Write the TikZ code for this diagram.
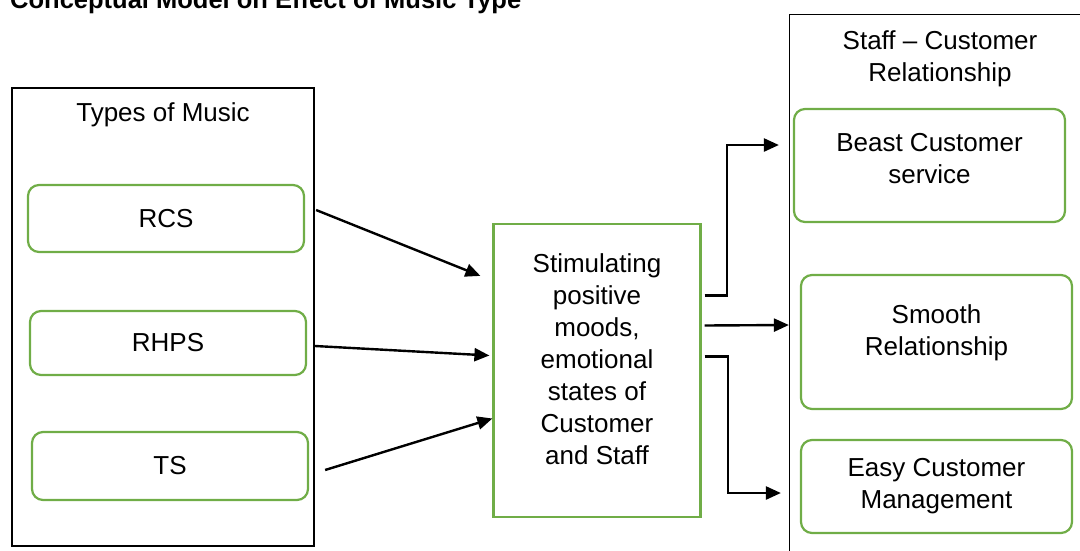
\documentclass[tikz,border=0pt]{standalone}
\usepackage{fontspec}
\setmainfont{Liberation Sans}
\usetikzlibrary{calc,arrows.meta}
\definecolor{boxgreen}{HTML}{70AD47}
\tikzset{
  outerbox/.style={draw=black, line width=1.3pt, minimum width=#1, inner sep=0pt},
  greenbox/.style={draw=boxgreen, line width=2.2pt, rounded corners=11pt, inner sep=0pt},
  plainbox/.style={draw=boxgreen, line width=2.2pt, inner sep=0pt},
  lbl/.style={font=\fontsize{26}{32}\selectfont, align=center, inner sep=0pt},
  conn/.style={line width=2.4pt, -{Triangle[length=15pt,width=13pt]}},
}
\begin{document}
\begin{tikzpicture}[x=1pt,y=-1pt]
\clip (0,0) rectangle (1080,550);
\useasboundingbox (0,0) rectangle (1080,550);
% title (clipped at top as in reference)
\node[anchor=base west, inner sep=0pt, font=\fontsize{25.5}{30}\selectfont\bfseries] (title) at (10,8.5) {Conceptual Model on Effect of Music Type};
% left group
\node[outerbox=302pt, minimum height=458pt] (left) at (163,317) {};
\node[lbl] (leftT) at (163,115) {Types of Music};
\node[greenbox, minimum width=276pt, minimum height=67pt] (rcs) at (166,218.5) {};
\node[lbl] (rcsT) at (166,218.5) {RCS};
\node[greenbox, minimum width=276pt, minimum height=64pt] (rhps) at (168,343) {};
\node[lbl] (rhpsT) at (168,343) {RHPS};
\node[greenbox, minimum width=276pt, minimum height=68pt] (ts) at (170,466) {};
\node[lbl] (tsT) at (170,466) {TS};
% center
\node[plainbox, minimum width=207pt, minimum height=293pt] (center) at (597,370.5) {};
\node[lbl] (centerT) at (597,359) {Stimulating\\positive\\moods,\\emotional\\states of\\Customer\\and Staff};
% right group
\node[outerbox=300pt, minimum height=560pt, anchor=north west] (right) at (789,14) {};
\node[lbl] (rightT) at (940,59) {Staff -- Customer\\Relationship};
\node[greenbox, minimum width=271pt, minimum height=113pt] (beast) at (929.5,165.5) {};
\node[lbl] (beastT) at (929.5,158.5) {Beast Customer\\service};
\node[greenbox, minimum width=271pt, minimum height=134pt] (smooth) at (936.5,342) {};
\node[lbl] (smoothT) at (936.5,332.5) {Smooth\\Relationship};
\node[greenbox, minimum width=271pt, minimum height=93pt] (easy) at (936.5,486.5) {};
\node[lbl] (easyT) at (936.5,486.5) {Easy Customer\\Management};
% connectors
\draw[conn] ($(rcs.east)+(11,-8.5)$) -- ($(center.north west)+(-12,53)$);
\draw[conn] ($(rhps.east)+(8,3)$) -- ($(center.west)+(-3,-15)$);
\draw[conn] ($(ts.east)+(16,4)$) -- ($(center.west)+(0,48)$);
\draw[conn] ($(center.east)+(3,-75)$) -| ($(beast.west)+(-66,-20.5)$) -- ($(beast.west)+(-14,-20.5)$);
\draw[conn] ($(center.east)+(3,-45)$) -- ($(smooth.west)+(-11,-17)$);
\draw[conn] ($(center.east)+(3,-14)$) -| ($(easy.west)+(-72,6.5)$) -- ($(easy.west)+(-19,6.5)$);
\end{tikzpicture}
\end{document}
